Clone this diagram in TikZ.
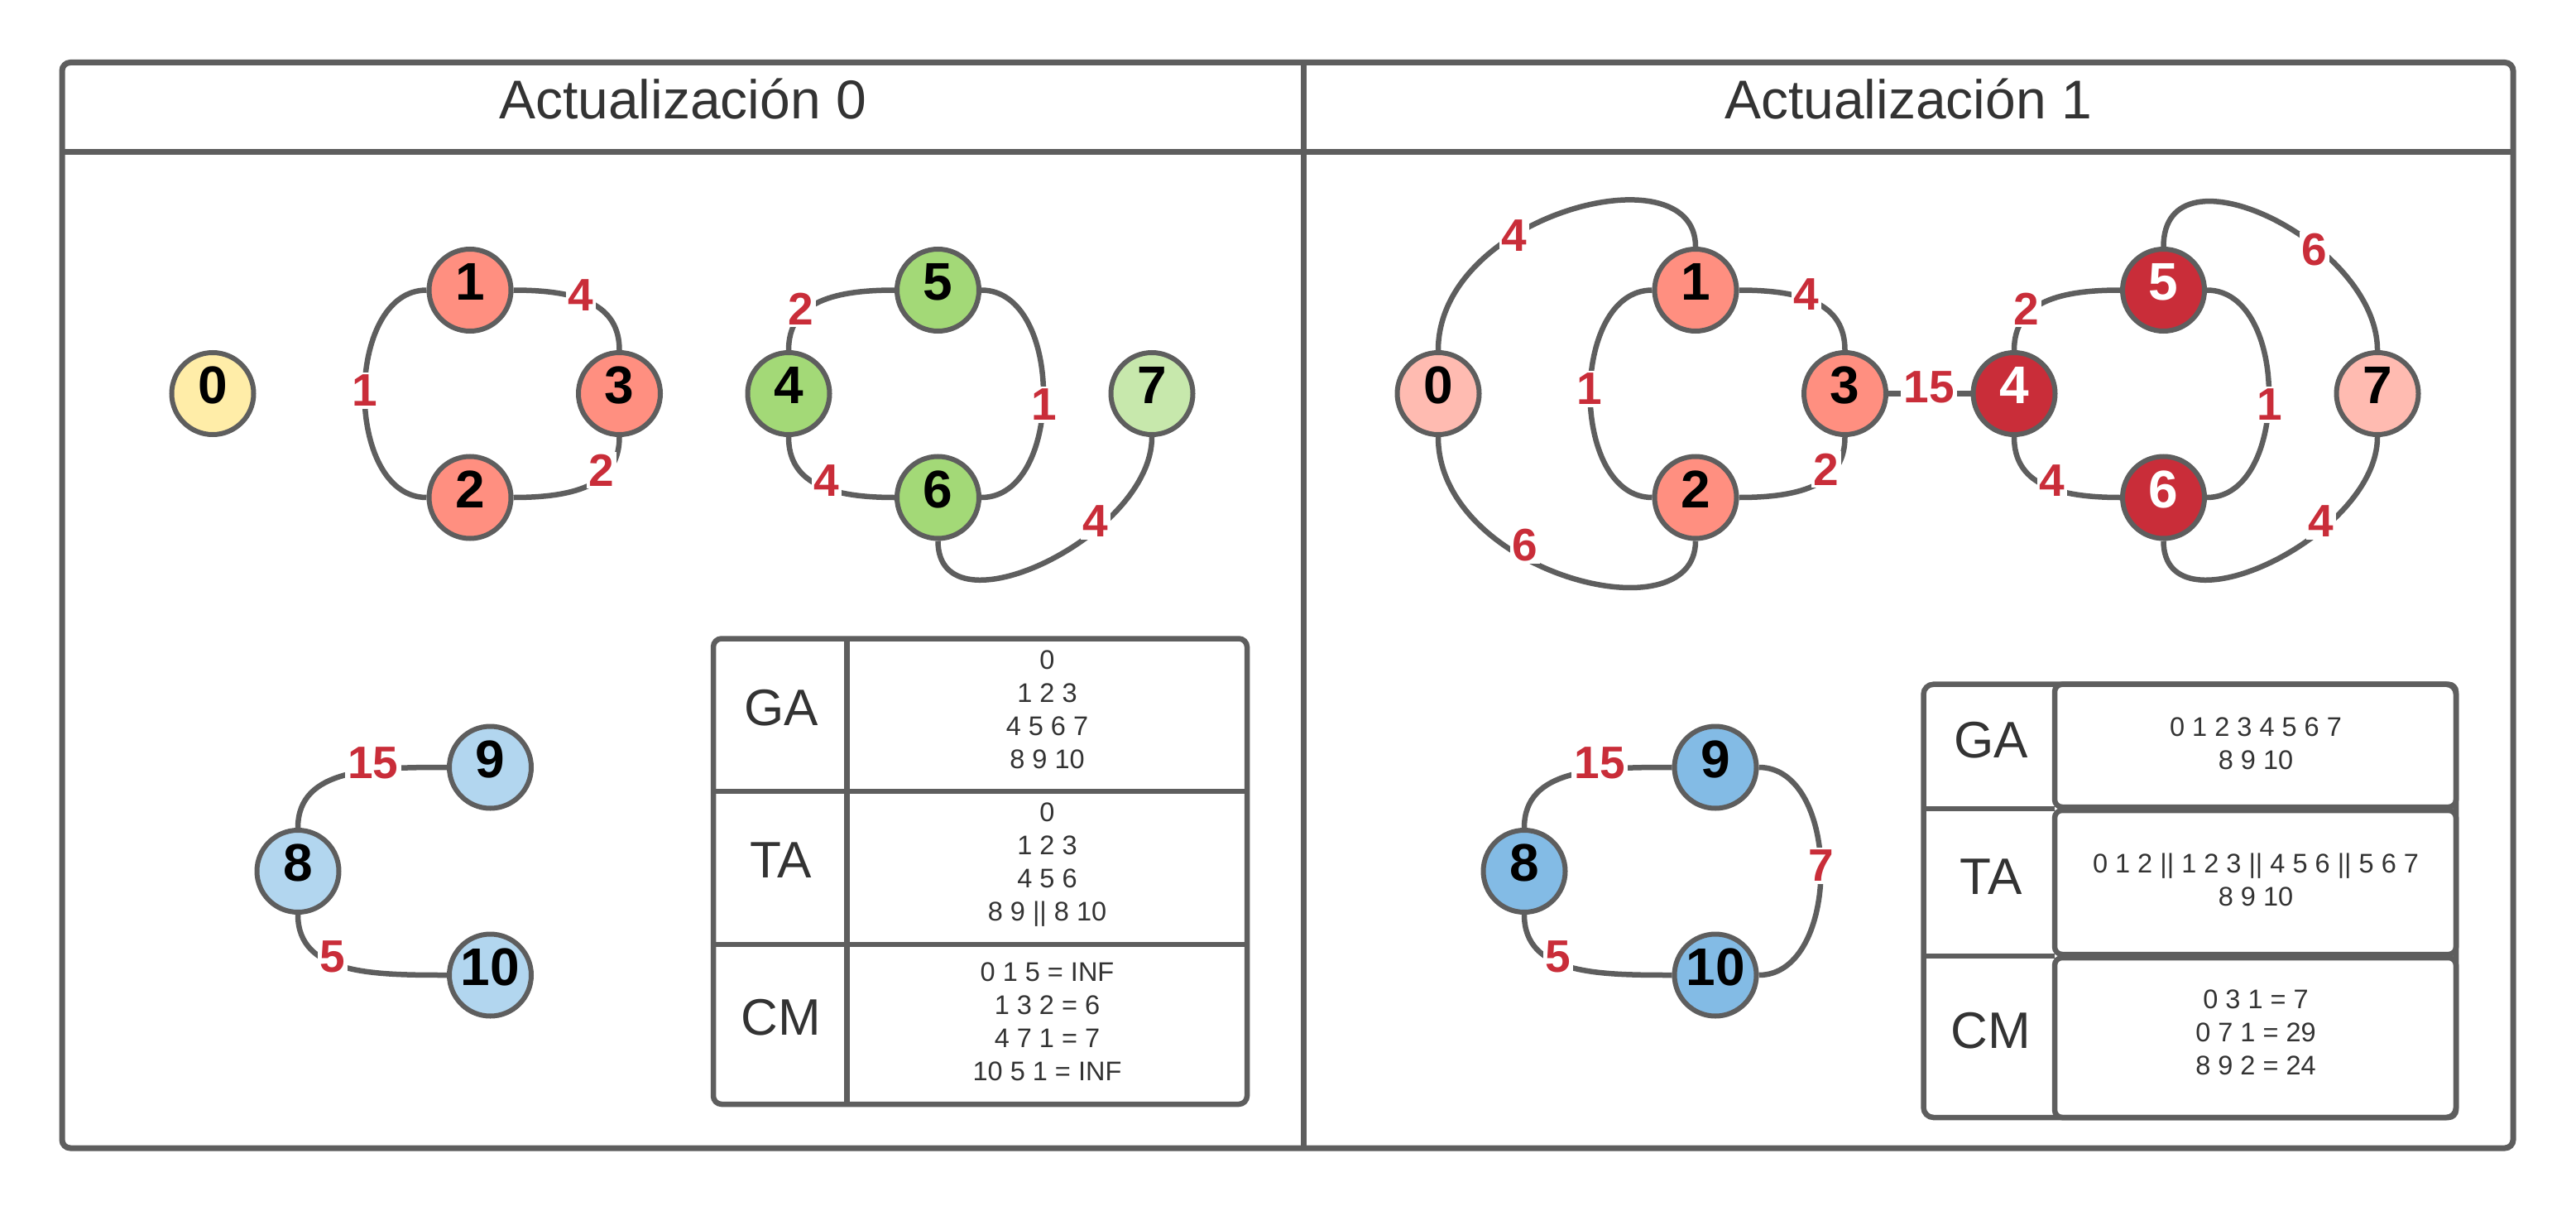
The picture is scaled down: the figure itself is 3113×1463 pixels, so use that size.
\documentclass[tikz,border=0pt]{standalone}
\usepackage{fontspec}
\setmainfont{Liberation Sans}
\definecolor{lgray}{HTML}{5E5E5E}
\definecolor{txt}{HTML}{333333}
\definecolor{lred}{HTML}{C92D39}
\definecolor{cyel}{HTML}{FFEDA8}
\definecolor{csal}{HTML}{FF8F80}
\definecolor{cpink}{HTML}{FFBBB1}
\definecolor{cgrn}{HTML}{A3D977}
\definecolor{clgrn}{HTML}{C7E8AC}
\definecolor{clblu}{HTML}{B2D6EF}
\definecolor{cblu}{HTML}{83BBE5}
\begin{document}
\begin{tikzpicture}[x=1pt,y=-1pt,
  vert/.style={circle, draw=lgray, line width=6pt, minimum size=99pt, inner sep=0pt,
    font=\bfseries\fontsize{64}{64}\selectfont, text depth=20pt},
  conn/.style={draw=lgray, line width=6.5pt},
  elab/.style={fill=white, text=lred, font=\bfseries\fontsize{55}{55}\selectfont, inner sep=3pt},
  frame/.style={draw=lgray, line width=7pt},
  tbl/.style={draw=lgray, line width=6.5pt},
  ttl/.style={text=txt, font=\fontsize{66}{66}\selectfont, inner sep=0pt},
  big/.style={text=txt, font=\fontsize{62}{62}\selectfont, inner sep=0pt},
  small/.style={text=txt, font=\fontsize{32.5}{40}\selectfont, align=center, inner sep=0pt, anchor=north}
]
\fill[white] (0,0) rectangle (3113,1463);
\useasboundingbox (0,0) rectangle (3113,1463);

% frame
\draw[frame, rounded corners=10pt] (75,75.5) rectangle (3037,1387);
\draw[frame] (75,183.3) -- (3037,183.3);
\draw[frame] (1575,75.5) -- (1575,1387);
\node[ttl, anchor=base] (T0) at (825,143.3) {Actualización 0};
\node[ttl, anchor=base] (T1) at (2306,143.3) {Actualización 1};

% left graph nodes
\node[vert, fill=cyel] (L0) at (257,475.5) {0};
\node[vert, fill=csal] (L1) at (568,350.5) {1};
\node[vert, fill=csal] (L2) at (568,601) {2};
\node[vert, fill=csal] (L3) at (748.5,475.5) {3};
\node[vert, fill=cgrn] (L4) at (953,475.5) {4};
\node[vert, fill=cgrn] (L5) at (1133.5,350.5) {5};
\node[vert, fill=cgrn] (L6) at (1133.5,601) {6};
\node[vert, fill=clgrn] (L7) at (1392,475.5) {7};
\node[vert, fill=clblu] (L8) at (360,1052.5) {8};
\node[vert, fill=clblu] (L9) at (592.5,927) {9};
\node[vert, fill=clblu] (L10) at (592.5,1178) {10};

% left edges
\draw[conn] (L1.west) .. controls +(-100,0) and +(-100,0) .. (L2.west);
\draw[conn] (L1.east) .. controls +(80,0) and +(0,-55) .. (L3.north);
\draw[conn] (L3.south) .. controls +(0,55) and +(80,0) .. (L2.east);
\draw[conn] (L4.north) .. controls +(0,-55) and +(-80,0) .. (L5.west);
\draw[conn] (L4.south) .. controls +(0,55) and +(-80,0) .. (L6.west);
\draw[conn] (L5.east) .. controls +(100,0) and +(100,0) .. (L6.east);
\draw[conn] (L6.south) .. controls +(0,117) and +(0,120) .. (L7.south);
\draw[conn] (L8.north) .. controls +(0,-72) and +(-90,0) .. (L9.west);
\draw[conn] (L8.south) .. controls +(0,72) and +(-90,0) .. (L10.west);

\node[elab] (la1) at (441,472) {1};
\node[elab] (la2) at (702,357) {4};
\node[elab] (la3) at (727,568) {2};
\node[elab] (la4) at (968,373) {2};
\node[elab] (la5) at (999,581) {4};
\node[elab] (la6) at (1262,489) {1};
\node[elab] (la7) at (1324,630) {4};
\node[elab] (la8) at (451,922) {15};
\node[elab] (la9) at (402,1156) {5};

% right graph nodes
\node[vert, fill=cpink] (R0) at (1738,475.5) {0};
\node[vert, fill=csal] (R1) at (2049,350.5) {1};
\node[vert, fill=csal] (R2) at (2049,601) {2};
\node[vert, fill=csal] (R3) at (2229.5,475.5) {3};
\node[vert, fill=lred, text=white] (R4) at (2434,475.5) {4};
\node[vert, fill=lred, text=white] (R5) at (2614.5,350.5) {5};
\node[vert, fill=lred, text=white] (R6) at (2614.5,601) {6};
\node[vert, fill=cpink] (R7) at (2873,475.5) {7};
\node[vert, fill=cblu] (R8) at (1842,1052.5) {8};
\node[vert, fill=cblu] (R9) at (2073,927) {9};
\node[vert, fill=cblu] (R10) at (2073,1178) {10};

% right edges
\draw[conn] (R0.north) .. controls +(0,-163.5) and +(0,-118.5) .. (R1.north);
\draw[conn] (R0.south) .. controls +(0,163.5) and +(0,118.5) .. (R2.south);
\draw[conn] (R1.west) .. controls +(-100,0) and +(-100,0) .. (R2.west);
\draw[conn] (R1.east) .. controls +(80,0) and +(0,-55) .. (R3.north);
\draw[conn] (R3.south) .. controls +(0,55) and +(80,0) .. (R2.east);
\draw[conn] (R3.east) -- (R4.west);
\draw[conn] (R4.north) .. controls +(0,-55) and +(-80,0) .. (R5.west);
\draw[conn] (R4.south) .. controls +(0,55) and +(-80,0) .. (R6.west);
\draw[conn] (R5.east) .. controls +(100,0) and +(100,0) .. (R6.east);
\draw[conn] (R5.north) .. controls +(0,-130) and +(0,-130) .. (R7.north);
\draw[conn] (R6.south) .. controls +(0,117) and +(0,120) .. (R7.south);
\draw[conn] (R8.north) .. controls +(0,-72) and +(-90,0) .. (R9.west);
\draw[conn] (R8.south) .. controls +(0,72) and +(-90,0) .. (R10.west);
\draw[conn] (R9.east) .. controls +(100,0) and +(100,0) .. (R10.east);

\node[elab] (ra1) at (1830,285) {4};
\node[elab] (ra2) at (1843,659) {6};
\node[elab] (ra3) at (1921,470) {1};
\node[elab] (ra4) at (2183,356) {4};
\node[elab] (ra5) at (2207,567) {2};
\node[elab] (ra6) at (2331,468) {15};
\node[elab] (ra7) at (2449,373) {2};
\node[elab] (ra8) at (2480,581) {4};
\node[elab] (ra9) at (2743,489) {1};
\node[elab] (ra10) at (2797,302) {6};
\node[elab] (ra11) at (2805,630) {4};
\node[elab] (ra12) at (1933,922) {15};
\node[elab] (ra13) at (1883,1156) {5};
\node[elab] (ra14) at (2201,1046) {7};

% left table
\draw[tbl, rounded corners=10pt] (862,771.5) rectangle (1507,1334);
\draw[tbl] (1023.5,771.5) -- (1023.5,1334);
\draw[tbl] (862,956) -- (1507,956);
\draw[tbl] (862,1141) -- (1507,1141);
\node[big] (lGA) at (944,855) {GA};
\node[big] (lTA) at (944,1039) {TA};
\node[big] (lCM) at (944,1229) {CM};
\node[small] (lvGA) at (1265.5,785.3) {0\\1 2 3\\4 5 6 7\\8 9 10};
\node[small] (lvTA) at (1265.5,969.3) {0\\1 2 3\\4 5 6\\8 9 || 8 10};
\node[small] (lvCM) at (1265.5,1162.3) {0 1 5 = INF\\1 3 2 = 6\\4 7 1 = 7\\10 5 1 = INF};

% right table
\draw[tbl, rounded corners=12pt] (2324.5,826.7) rectangle (2968,1350);
\draw[tbl] (2324.5,977) -- (2483,977);
\draw[tbl] (2324.5,1155) -- (2483,1155);
\draw[tbl, rounded corners=9pt] (2483,826.7) rectangle (2968,975);
\draw[tbl, rounded corners=9pt] (2483,979) rectangle (2968,1153);
\draw[tbl, rounded corners=9pt] (2483,1157) rectangle (2968,1350);
\node[big] (rGA) at (2406,894.4) {GA};
\node[big] (rTA) at (2406,1059.3) {TA};
\node[big] (rCM) at (2406,1245.4) {CM};
\node[small] (rvGA) at (2726,866.3) {0 1 2 3 4 5 6 7\\8 9 10};
\node[small] (rvTA) at (2726,1031) {0 1 2 || 1 2 3 || 4 5 6 || 5 6 7\\8 9 10};
\node[small] (rvCM) at (2726,1195.8) {0 3 1 = 7\\0 7 1 = 29\\8 9 2 = 24};
\end{tikzpicture}
\end{document}
